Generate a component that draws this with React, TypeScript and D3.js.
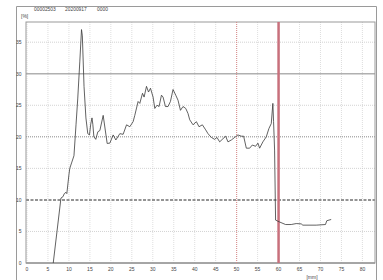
import React from "react";
import * as d3 from "d3";

const headerParts = ["00002503", "20200917", "0000"];
const yTicks = [0, 5, 10, 15, 20, 25, 30, 35];
const xTicks = [0, 5, 10, 15, 20, 25, 30, 35, 40, 45, 50, 55, 60, 65, 70, 75, 80];

const depthMm = [
  6.26, 8.1, 8.57, 8.9, 9.3, 9.5, 10.0, 10.2, 10.7, 11.2, 11.7, 12.1, 12.6, 13.0, 13.2, 13.6,
  14.05, 14.5, 14.9, 15.2, 15.5, 15.7, 15.95, 16.4, 16.9, 17.38, 18.17, 19.12, 19.76, 20.55,
  21.19, 22.14, 22.93, 23.74, 24.52, 25.31, 25.71, 26.5, 26.9, 27.55, 27.93, 28.5, 28.98, 29.45,
  30.07, 30.48, 31.02, 31.5, 32.07, 32.45, 33.02, 33.64, 34.21, 34.83, 35.48, 36.02, 36.6,
  37.21, 37.86, 38.4, 38.81, 39.6, 40.4, 41.02, 41.83, 42.62, 43.17, 43.98, 44.76, 45.31,
  45.95, 46.74, 47.38, 47.93, 48.74, 49.52, 50.31, 51.12, 51.67, 52.31, 53.1, 53.74, 54.52,
  55.07, 55.48, 56.26, 57.07, 57.69, 58.26, 58.64, 58.81, 59.05, 59.29, 60.24, 61.67, 63.02,
  64.21, 65.4, 65.79, 68.98, 71.19, 71.5, 72.55,
];
const moisturePct = [
  0, 10.3, 10.5, 11.0, 11.2, 11.0, 14.0, 15.0, 16.0, 17.0, 22.0, 26.0, 32.0, 37.0, 36.0, 28.0,
  23.0, 20.5, 20.3, 22.0, 23.0, 22.0, 20.0, 19.6, 20.8, 21.0, 23.4, 18.95, 19.0, 20.3,
  19.5, 20.5, 20.4, 21.9, 21.6, 22.4, 23.4, 25.6, 25.3, 26.9, 26.3, 28.0, 27.1, 27.7,
  26.3, 24.5, 25.0, 24.8, 26.6, 26.3, 24.8, 24.8, 25.6, 27.5, 26.6, 25.8, 24.2,
  24.8, 24.5, 23.7, 22.7, 21.9, 22.4, 21.6, 21.9, 21.1, 20.5, 19.9, 19.6, 19.9,
  19.2, 19.7, 20.1, 19.2, 19.5, 19.9, 20.3, 20.1, 20.1, 18.2, 18.2, 18.7, 18.5,
  19.0, 18.2, 19.2, 20.0, 21.3, 22.1, 25.3, 22.4, 17.9, 6.8, 6.5, 6.1, 6.1,
  6.25, 6.2, 6.0, 6.0, 6.1, 6.7, 6.9,
];

const W = 383;
const H = 280;
const plot = { left: 26, right: 375, top: 22, bottom: 263 };

export default function App() {
  const x = d3.scaleLinear().domain([0, 83]).range([plot.left + 1, plot.right]);
  const y = d3.scaleLinear().domain([0, 38.2]).range([plot.bottom, plot.top]);
  const data = depthMm.map((d, i) => [d, moisturePct[i]] as [number, number]);
  const line = d3
    .line<[number, number]>()
    .x((d) => x(d[0]))
    .y((d) => y(d[1]));
  const font = "Liberation Sans, Arial, sans-serif";
  const headerX = [34, 65, 97];

  return (
    <svg
      width={W}
      height={H}
      style={{ position: "absolute", left: 0, top: 0, background: "#fff" }}
    >
      <rect x={0} y={0} width={W} height={H} fill="#fff" />
      {/* outer frame */}
      <path d={`M16.5,${H} V6.5 H376.5 V${H}`} fill="none" stroke="#9a9a9a" strokeWidth={1} />
      {headerParts.map((p, i) => (
        <text key={p + i} x={headerX[i]} y={11} fontSize={4.9} fontFamily={font} fill="#444">
          {p}
        </text>
      ))}
      <text x={21} y={18} fontSize={5} fontFamily={font} fill="#444">
        [%]
      </text>

      {/* vertical grid */}
      {xTicks.map((t) => (
        <line
          key={"vx" + t}
          x1={x(t)}
          x2={x(t)}
          y1={plot.top}
          y2={plot.bottom}
          stroke="#d6d6d6"
          strokeWidth={0.8}
          strokeDasharray="1,1"
        />
      ))}
      {/* horizontal grid */}
      {yTicks
        .filter((t) => t !== 0 && t !== 10 && t !== 20 && t !== 30)
        .map((t) => (
          <line
            key={"hy" + t}
            x1={plot.left}
            x2={plot.right}
            y1={y(t)}
            y2={y(t)}
            stroke="#c8c8c8"
            strokeWidth={0.8}
            strokeDasharray="1,1"
          />
        ))}
      {/* special horizontals */}
      <line x1={plot.left} x2={plot.right} y1={y(30)} y2={y(30)} stroke="#b0b0b0" strokeWidth={1.5} />
      <line
        x1={plot.left}
        x2={plot.right}
        y1={y(20)}
        y2={y(20)}
        stroke="#8a8a8a"
        strokeWidth={1}
        strokeDasharray="1,1"
      />
      <line
        x1={plot.left}
        x2={plot.right}
        y1={y(10)}
        y2={y(10)}
        stroke="#707070"
        strokeWidth={1.5}
        strokeDasharray="3,1.5"
      />

      {/* plot frame */}
      <rect
        x={plot.left}
        y={plot.top}
        width={plot.right - plot.left}
        height={plot.bottom - plot.top}
        fill="none"
        stroke="#9a9a9a"
        strokeWidth={1}
      />
      <line x1={plot.left} x2={plot.right} y1={plot.bottom} y2={plot.bottom} stroke="#999" strokeWidth={1.5} />

      {/* red markers */}
      <line
        x1={x(50)}
        x2={x(50)}
        y1={plot.top}
        y2={plot.bottom}
        stroke="#d88888"
        strokeWidth={1}
        strokeDasharray="1,1"
      />
      <line x1={x(60)} x2={x(60)} y1={plot.top} y2={plot.bottom} stroke="#c8707c" strokeWidth={2.5} />

      {/* data line */}
      <path d={line(data) || ""} fill="none" stroke="#3a3a3a" strokeWidth={0.8} />

      {/* tick labels */}
      {yTicks.map((t) => (
        <text
          key={"yl" + t}
          x={21.5}
          y={y(t) + 1.8}
          fontSize={5}
          fontFamily={font}
          fill="#444"
          textAnchor="end"
        >
          {t}
        </text>
      ))}
      {xTicks.map((t) => (
        <text
          key={"xl" + t}
          x={x(t)}
          y={271}
          fontSize={5}
          fontFamily={font}
          fill="#444"
          textAnchor="middle"
        >
          {t}
        </text>
      ))}
      <text x={312} y={279} fontSize={5} fontFamily={font} fill="#444" textAnchor="middle">
        [mm]
      </text>
    </svg>
  );
}
